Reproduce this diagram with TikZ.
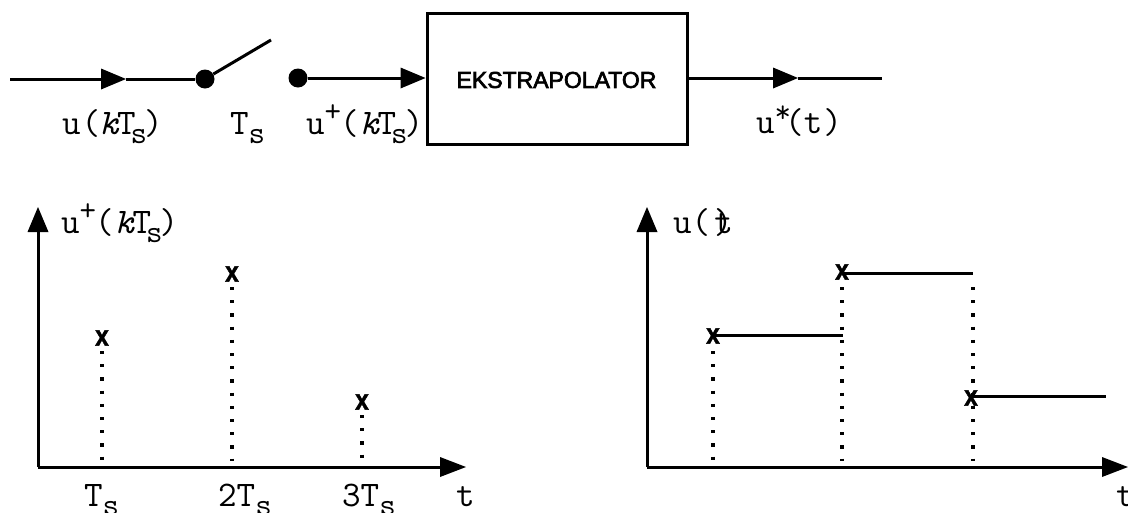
\documentclass[tikz,border=0pt]{standalone}
\usepackage{fontspec}
\setmainfont{Liberation Sans}
\newfontfamily\blocksans[FakeBold=3]{Liberation Sans}
\newfontfamily\xfont[UprightFont=* Bold,FakeBold=1.5]{Liberation Sans}
\usetikzlibrary{arrows.meta}
\newcommand{\lbs}{\raisebox{-9pt}{\fontsize{32}{32}\selectfont s}}
\newcommand{\lsup}[2]{\raisebox{#1}{\fontsize{32}{32}\selectfont #2}}
\newcommand{\kTs}{{\itshape k}\kern-1pt T\kern-5pt\lbs\kern-3pt}
\tikzset{
  x=1pt,y=-1pt,
  wire/.style={line width=3pt,line cap=butt},
  thinwire/.style={line width=3pt},
  tipped/.style={wire,-{Triangle[length=25pt,width=21pt,line width=0pt]}},
  dotline/.style={line width=3.2pt,dash pattern=on 3.2pt off 10pt},
  blk/.style={draw,line width=3pt,inner sep=0pt,minimum width=260pt,minimum height=131pt},
  pin/.style={circle,fill=black,inner sep=0pt,minimum size=19pt},
  lab/.style={inner sep=0pt,anchor=base west,font=\ttfamily\fontsize{36}{36}\selectfont},
  xmark/.style={inner sep=0pt,font=\xfont\fontsize{29}{29}\selectfont}
}
\newcommand{\xm}{\scalebox{0.85}[1]{x}}
\begin{document}
\begin{tikzpicture}
\useasboundingbox (0,0) rectangle (1128,512);
\clip (0,0) rectangle (1128,512);
% top chain
\coordinate (in) at (10,79);
\coordinate (intip) at (126,79);
\node[pin] (sw1) at (205,79) {};
\coordinate (swend) at (271,40);
\node[pin] (sw2) at (298,78) {};
\node[blk] (ex) at (557,78.5) {};
\node[font=\blocksans\fontsize{23}{23}\selectfont,inner sep=0pt] (extxt) at (556.5,80) {EKSTRAPOLATOR};
\coordinate (outtip) at (798,78);
\coordinate (out) at (882,78);
\draw[tipped] (in) -- (intip);
\draw[wire] (intip) -- (sw1);
\draw[wire] (sw1) -- (swend);
\draw[tipped] (sw2) -- (ex.west |- sw2);
\draw[tipped] (ex.east |- outtip) -- (outtip);
\draw[wire] (outtip) -- (out);
% top labels
\node[lab] (l1) at (62,134) {u\kern1pt(\kern-1pt\kTs)};
\node[lab] (l2) at (230,134) {T\lbs};
\node[lab] (l3) at (306,134) {u\lsup{13pt}{+}\kern-1pt(\kern1pt\kTs)};
\node[lab] (l4) at (756,133) {u\lsup{11pt}{*}\kern-6pt(t\kern1pt)};
% left graph
\coordinate (lo) at (38,467);
\coordinate (ly) at (38,207);
\coordinate (lx) at (466,467);
\draw[wire,-{Triangle[length=25pt,width=21pt,line width=0pt]}] (lo) -- (ly);
\draw[wire,-{Triangle[length=26pt,width=20pt,line width=0pt]}] (lo) -- (lx);
\node[lab] (ly1) at (61,233) {u\lsup{13pt}{+}\kern-1pt(\kern1pt\kTs)};
\node[xmark] (a1) at (102,338) {\xm};
\node[xmark] (a2) at (232,274) {\xm};
\node[xmark] (a3) at (362,402) {\xm};
\coordinate (a1b) at (102,461);
\coordinate (a2b) at (232,461);
\coordinate (a3b) at (362,461);
\draw[dotline] (102,351) -- (a1b);
\draw[dotline] (232,287) -- (a2b);
\draw[dotline] (362,415) -- (a3b);
\node[lab] (t1) at (84,506) {T\lbs};
\node[lab] (t2) at (218,506) {2T\lbs};
\node[lab] (t3) at (342,506) {3T\lbs};
\node[lab] (tl) at (456,506) {t};
% right graph
\coordinate (ro) at (647,467);
\coordinate (ry) at (647,207);
\coordinate (rx) at (1128,467);
\draw[wire,-{Triangle[length=25pt,width=21pt,line width=0pt]}] (ro) -- (ry);
\draw[wire,-{Triangle[length=26pt,width=20pt,line width=0pt]}] (ro) -- (rx);
\node[lab] (ry1) at (673,233) {u(\kern4pt t\kern-19pt)};
\node[xmark] (b1) at (713,336) {\xm};
\node[xmark] (b2) at (842,272) {\xm};
\node[xmark] (b3) at (971,398) {\xm};
\coordinate (b1e) at (843,335.5);
\coordinate (b2e) at (973,273);
\coordinate (b3e) at (1106,396.5);
\draw[thinwire] (b1.center |- b1e) -- (b1e);
\draw[thinwire] (b2.center |- b2e) -- (b2e);
\draw[thinwire] (b3.center |- b3e) -- (b3e);
\draw[dotline] (713,351) -- (713,461);
\draw[dotline] (842,287) -- (842,461);
\draw[dotline] (973,287) -- (973,461);
\node[lab] (t4) at (1116,506) {t};
\end{tikzpicture}
\end{document}
